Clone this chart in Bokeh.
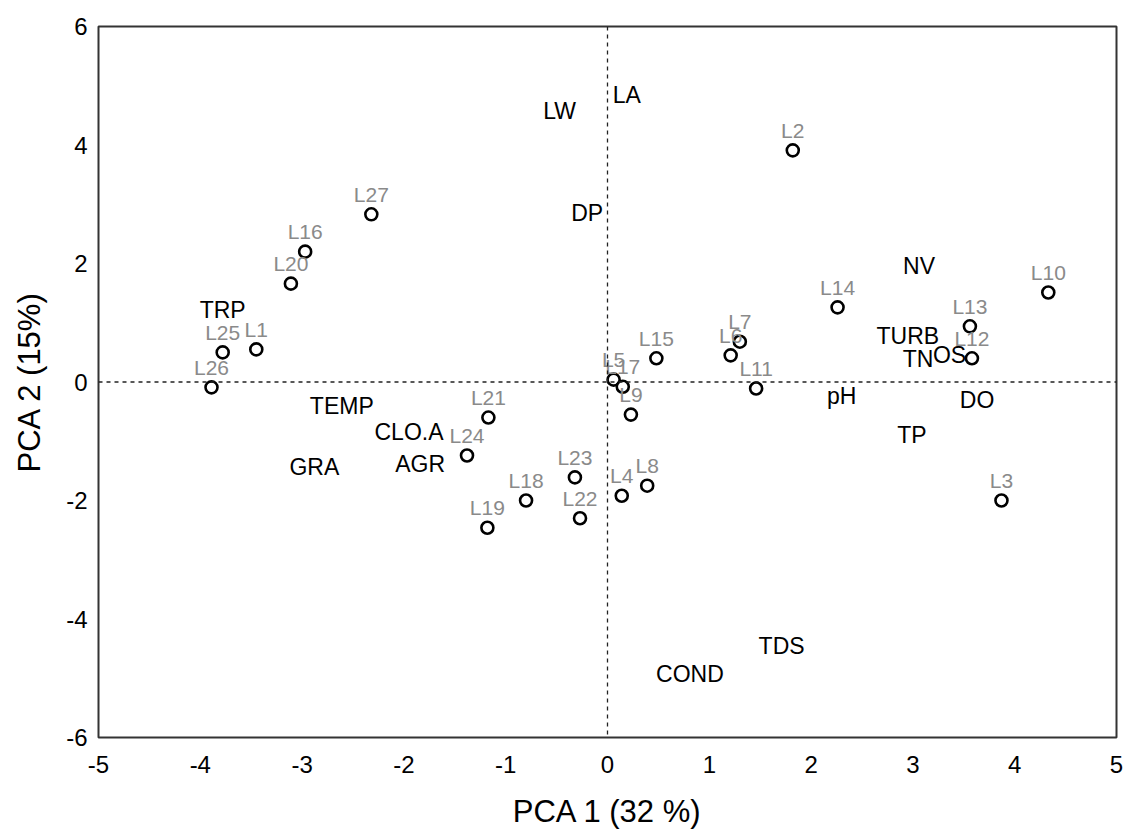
from bokeh.plotting import figure
from bokeh.models import ColumnDataSource, Span, FixedTicker, Range1d, PrintfTickFormatter
from bokeh.embed import file_html
from bokeh.resources import INLINE
from bokeh.core.properties import value

# Sampling sites: PCA scores
site_names = ["L1", "L2", "L3", "L4", "L5", "L6", "L7", "L8", "L9", "L10",
              "L11", "L12", "L13", "L14", "L15", "L16", "L17", "L18", "L19",
              "L20", "L21", "L22", "L23", "L24", "L25", "L26", "L27"]
site_pc1 = [-3.45, 1.82, 3.87, 0.14, 0.06, 1.21, 1.30, 0.39, 0.23, 4.33,
            1.46, 3.58, 3.56, 2.26, 0.48, -2.97, 0.15, -0.80, -1.18,
            -3.11, -1.17, -0.27, -0.32, -1.38, -3.78, -3.89, -2.32]
site_pc2 = [0.55, 3.91, -2.00, -1.92, 0.04, 0.45, 0.68, -1.75, -0.55, 1.51,
            -0.11, 0.40, 0.94, 1.26, 0.40, 2.20, -0.08, -2.00, -2.46,
            1.66, -0.60, -2.30, -1.61, -1.24, 0.50, -0.09, 2.83]

# Environmental variables: label positions
var_names = ["LA", "LW", "DP", "NV", "TRP", "TURB", "TN", "OS", "pH", "DO",
             "TP", "TEMP", "CLO.A", "GRA", "AGR", "TDS", "COND"]
var_pc1 = [0.19, -0.47, -0.20, 3.06, -3.78, 2.95, 3.05, 3.36, 2.30, 3.63,
           2.99, -2.61, -1.95, -2.88, -1.84, 1.71, 0.81]
var_pc2 = [4.85, 4.58, 2.86, 1.95, 1.22, 0.77, 0.38, 0.46, -0.24, -0.30,
           -0.90, -0.41, -0.85, -1.43, -1.39, -4.46, -4.92]

x_ticks = [-5, -4, -3, -2, -1, 0, 1, 2, 3, 4, 5]
y_ticks = [-6, -4, -2, 0, 2, 4, 6]

FONT = "Liberation Sans"

p = figure(width=1130, height=831, output_backend="svg", toolbar_location=None,
           x_range=Range1d(-5, 5), y_range=Range1d(-6, 6),
           min_border_left=98, min_border_right=14,
           min_border_top=26, min_border_bottom=94)

p.grid.visible = False
p.background_fill_color = "white"
p.border_fill_color = "white"
p.outline_line_color = "#333333"
p.outline_line_width = 2

for ax in (p.xaxis[0], p.yaxis[0]):
    ax.major_tick_in = 0
    ax.major_tick_out = 0
    ax.minor_tick_in = 0
    ax.minor_tick_out = 0
    ax.axis_line_color = None
    ax.formatter = PrintfTickFormatter(format="%d")
    ax.major_label_text_font = FONT
    ax.major_label_text_font_size = "24px"
    ax.major_label_text_color = "black"
    ax.axis_label_text_font = FONT
    ax.axis_label_text_font_style = "normal"
    ax.axis_label_text_font_size = "31px"
    ax.axis_label_text_color = "black"

p.xaxis.ticker = FixedTicker(ticks=x_ticks)
p.yaxis.ticker = FixedTicker(ticks=y_ticks)
p.xaxis.axis_label = "PCA 1 (32 %)"
p.yaxis.axis_label = "PCA 2 (15%)"
p.xaxis.major_label_standoff = 18
p.yaxis.major_label_standoff = 11
p.xaxis.axis_label_standoff = 18
p.yaxis.axis_label_standoff = 16

# Origin cross-hairs
for dim, loc in (("height", 0), ("width", 0)):
    p.add_layout(Span(location=loc, dimension=dim, line_color="#222222",
                      line_width=1.3, line_dash="4 4"))

sites = ColumnDataSource(dict(x=site_pc1, y=site_pc2, name=site_names))
vars_src = ColumnDataSource(dict(x=var_pc1, y=var_pc2, name=var_names))

p.scatter("x", "y", source=sites, marker="circle", size=12,
          fill_color="white", line_color="black", line_width=2.6)

p.text("x", "y", text="name", source=sites, text_font=value(FONT),
       text_font_size="21px", text_color="#8a8a8a", text_align="center",
       text_baseline="middle", y_offset=-20)

p.text("x", "y", text="name", source=vars_src, text_font=value(FONT),
       text_font_size="23px", text_color="black", text_align="center",
       text_baseline="middle")

open("out.html", "w").write(file_html(p, INLINE))
